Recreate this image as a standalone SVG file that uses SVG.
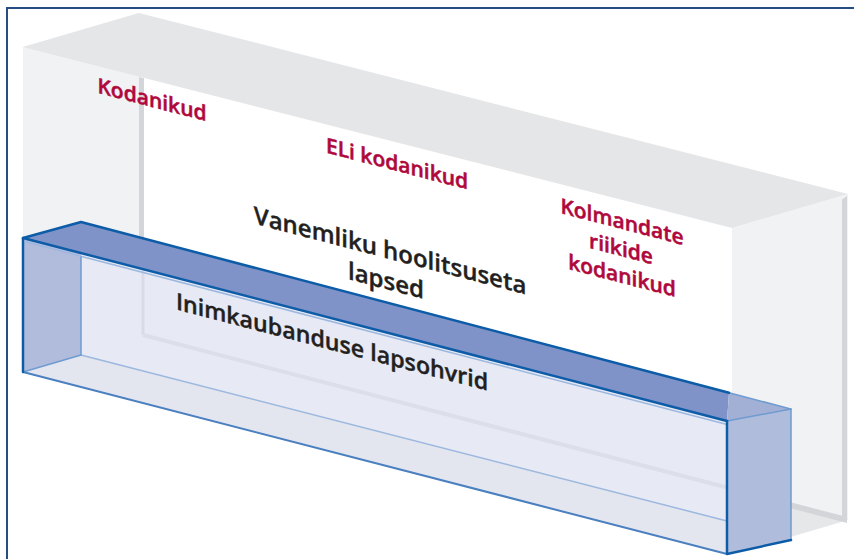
<svg xmlns="http://www.w3.org/2000/svg" width="854" height="559" viewBox="0 0 854 559">
  <style>
    .wall { fill: #f1f2f4; }
    .top { fill: #e5e6e8; }
    .floor { fill: #e6e7e9; }
    .strip { fill: #d4d5d8; }
    .red { fill: #b0083c; stroke: #b0083c; stroke-width: 0.5; font-family: "Open Sans", "Noto Sans", sans-serif; font-weight: 600; font-size: 21px; text-anchor: middle; }
    .blk { fill: #231f20; stroke: #231f20; stroke-width: 0.4; font-family: "Open Sans", "Noto Sans", sans-serif; font-weight: 600; font-size: 24px; text-anchor: middle; }
    .thick { fill: none; stroke: #0d5ca8; stroke-width: 2.5; stroke-linejoin: round; stroke-linecap: round; }
    .mid { fill: none; stroke: #4a80c0; stroke-width: 2; stroke-linecap: round; }
    .light { fill: none; stroke: #6e9bd0; stroke-width: 1.5; stroke-linecap: round; }
    .pale { fill: none; stroke: #9db8de; stroke-width: 1.5; }
  </style>
  <rect width="854" height="559" fill="#ffffff"/>
  <!-- frame -->
  <path d="M7,559 V8 H854" fill="none" stroke="#264c84" stroke-width="2"/>

  <g id="grey-box">
    <polygon class="wall" points="23,47 139,13 139,336 23,370"/>
    <polygon class="wall" points="732,228 848,194 848,520 732,554"/>
    <polygon class="floor" points="23,370 139,336 848,520 732,554"/>
    <polygon class="top" points="23,47 139,13 848,194 732,228"/>
    <polygon class="strip" points="139,77 144,78.3 144,336 139,336"/>
    <polygon class="strip" points="842,199.5 847,196 847,522 842,520"/>
    <polygon class="strip" points="141,333 847,517 847,523 141,338"/>
  </g>

  <g id="blue-box">
    <!-- interior back -->
    <polygon fill="#e7eaf5" points="23,238 727,421 727,554 23,372"/>
    <!-- interior floor -->
    <polygon fill="#e3e5ef" points="23,372 81,355 727,521 727,554"/>
    <!-- grey box edges seen through -->
    <line x1="143" y1="250" x2="143" y2="335" stroke="#d9dce8" stroke-width="3"/>
    <line x1="143" y1="335" x2="727" y2="487.5" stroke="#dcdee9" stroke-width="4"/>
    <!-- left end face -->
    <polygon fill="#b1bcdd" points="23,238 81,222 81,355 23,372"/>
    <!-- top band -->
    <polygon fill="#7f93c8" points="23,238 81,222 729,392.7 727,421"/>
    <polygon fill="#a3b0d6" points="729,392.7 791,409 727,421"/>
    <!-- right end face -->
    <polygon fill="#b0bcdc" points="727,421 791,409 791,540 727,554"/>
    <!-- edges -->
    <line class="pale" x1="81" y1="355" x2="727" y2="521"/>
    <line class="pale" x1="26" y1="242" x2="727" y2="424.5" stroke-width="1"/>
    <line class="light" x1="81" y1="257" x2="81" y2="355"/>
    <line class="light" x1="81" y1="355" x2="23" y2="372"/>
    <line class="mid" x1="23" y1="372" x2="727" y2="554"/>
    <polyline class="light" points="729,392.7 791,409 791,540"/>
    <line class="light" x1="727" y1="421" x2="791" y2="409"/>
    <polyline class="thick" points="23,372 23,238 81,222 729,392.7"/>
    <line class="thick" x1="23" y1="238" x2="727" y2="421"/>
    <polyline class="thick" points="727,421 727,554 791,540"/>
  </g>

  <g id="labels">
    <text id="kodanikud" class="red" transform="translate(152,107) skewY(14.6)">Kodanikud</text>
    <text id="eli-kodanikud" class="red" transform="translate(397,171) skewY(14.6)">ELi kodanikud</text>
    <g id="kolmandate">
      <text class="red" transform="translate(622,229) skewY(14.6)">Kolmandate</text>
      <text class="red" transform="translate(621,256) skewY(14.6)">riikide</text>
      <text class="red" transform="translate(622,283) skewY(14.6)">kodanikud</text>
    </g>
    <g id="vanemliku">
      <text class="blk" transform="translate(390,259) skewY(14.6)">Vanemliku hoolitsuseta</text>
      <text class="blk" transform="translate(386,289) skewY(14.6)">lapsed</text>
    </g>
    <text id="inimkaubandus" class="blk" style="font-size:23.2px" transform="translate(332,350) skewY(14.6)">Inimkaubanduse lapsohvrid</text>
  </g>
</svg>
